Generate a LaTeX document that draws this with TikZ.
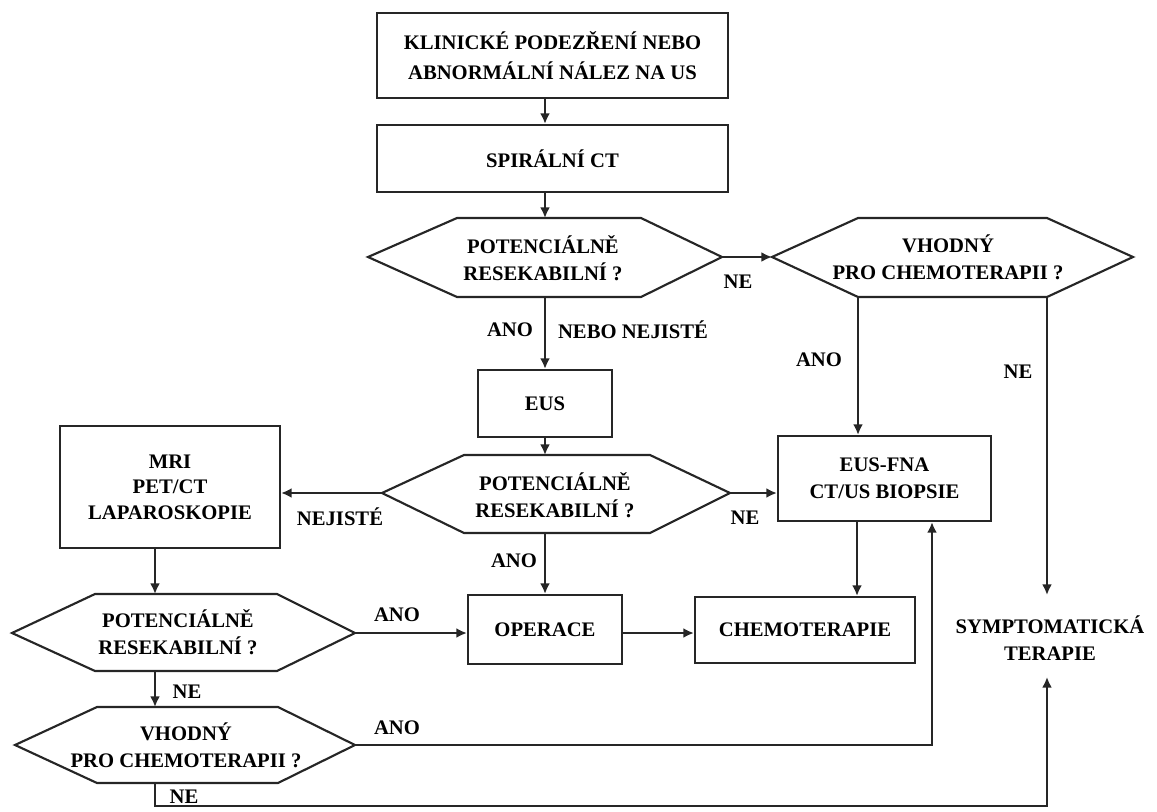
\documentclass[tikz,border=0pt]{standalone}
\usepackage{fontspec}
\setmainfont{Liberation Serif}
\usetikzlibrary{arrows.meta}
\tikzset{
  ink/.style={draw=black!85, line width=1.6pt},
  box/.style={ink, fill=white, align=center, inner sep=0pt,
    font=\fontsize{15.5}{20}\selectfont\bfseries},
  wh/.style 2 args={minimum width=#1*0.75pt, minimum height=#2*0.75pt},
  txt/.style={align=center, inner sep=0pt, font=\fontsize{15.5}{20}\selectfont\bfseries},
  lbl/.style={inner sep=0pt, font=\fontsize{15.5}{18}\selectfont\bfseries},
  arr/.style={ink, -{Latex[length=8pt,width=7.5pt]}},
  conn/.style={ink},
  hexline/.style={ink, line join=miter}
}
% name, xl, xfl, xfr, xr, ytop, ymid, ybot
\newcommand{\myhex}[8]{%
  \draw[hexline] (#2,#7) -- (#3,#6) -- (#4,#6) -- (#5,#7) -- (#4,#8) -- (#3,#8) -- cycle;
  \coordinate (#1w) at (#2,#7);
  \coordinate (#1e) at (#5,#7);
  \coordinate (#1sw) at (#3,#8);
  \coordinate (#1se) at (#4,#8);
  \coordinate (#1top) at (#2,#6);
  \coordinate (#1bot) at (#2,#8);
}
\begin{document}
\begin{tikzpicture}[x=0.75pt, y=-0.75pt]
\useasboundingbox (0,0) rectangle (1157,811);

% reference verticals
\coordinate (spine) at (545,0);
\coordinate (fnax) at (857,0);
\coordinate (upx) at (932,0);
\coordinate (symx) at (1047,0);
\coordinate (leftx) at (155,0);

% boxes
\node[box, wh={351}{85}, font=\fontsize{15.5}{22.5}\selectfont\bfseries] (b1) at (552.5,55.5)
  {KLINICKÉ PODEZŘENÍ NEBO\\ABNORMÁLNÍ NÁLEZ NA US};
\node[box, wh={351}{67}] (b2) at (552.5,158.5) {SPIRÁLNÍ CT};
\node[box, wh={134}{67}] (eus) at (545,403.5) {EUS};
\node[box, wh={220}{122}, font=\fontsize{15.5}{19}\selectfont\bfseries] (mri) at (170,487) {MRI\\PET/CT\\LAPAROSKOPIE};
\node[box, wh={213}{85}] (fna) at (884.5,478.5) {EUS-FNA\\CT/US BIOPSIE};
\node[box, wh={154}{69}] (oper) at (545,629.5) {OPERACE};
\node[box, wh={220}{66}] (chemo) at (805,630) {CHEMOTERAPIE};
\node[txt] (sym) at (1050,638) {SYMPTOMATICKÁ\\TERAPIE};
\coordinate (symtop) at (1047,595);
\coordinate (symbot) at (1047,677);

% hexagons
\myhex{h1}{368}{457}{641}{722}{218}{257}{297}
\myhex{h2}{772}{858}{1047}{1133}{218}{257}{297}
\myhex{h3}{382}{464}{650}{730}{455}{493}{533}
\myhex{h4}{12}{95}{277}{355}{594}{633}{671}
\myhex{h5}{15}{97}{278}{355}{707}{745}{783}
\node[txt] (t1) at (543,258) {POTENCIÁLNĚ\\RESEKABILNÍ ?};
\node[txt] (t2) at (948,257) {VHODNÝ\\PRO CHEMOTERAPII ?};
\node[txt] (t3) at (555,495) {POTENCIÁLNĚ\\RESEKABILNÍ ?};
\node[txt] (t4) at (178,632) {POTENCIÁLNĚ\\RESEKABILNÍ ?};
\node[txt] (t5) at (186,745) {VHODNÝ\\PRO CHEMOTERAPII ?};

% connectors
\draw[arr] (b1.south -| spine) -- (b2.north -| spine);
\draw[arr] (b2.south -| spine) -- (h1top -| spine);
\draw[arr] (h1e) -- (h2w);
\draw[arr] (h1bot -| spine) -- (eus.north -| spine);
\draw[arr] (eus.south -| spine) -- (h3top -| spine);
\draw[arr] (h3w) -- (h3w -| mri.east);
\draw[arr] (h3e) -- (h3e -| fna.west);
\draw[arr] (h3bot -| spine) -- (oper.north -| spine);
\draw[arr] (h2sw) -- (h2sw |- fna.north);
\draw[arr] (h2se) -- (symtop);
\draw[arr] (fna.south -| fnax) -- (chemo.north -| fnax);
\draw[arr] (mri.south -| leftx) -- (h4top -| leftx);
\draw[arr] (h4e) -- (h4e -| oper.west);
\draw[arr] (oper.east |- h4e) -- (chemo.west |- h4e);
\draw[arr] (h4bot -| leftx) -- (h5top -| leftx);
\draw[arr] (h5e) -| (fna.south -| upx);
\draw[arr] (h5bot -| leftx) -- ++(0,23) -| (symbot);

% labels
\node[lbl] (l1) at (738,282) {NE};
\node[lbl] (l2) at (510,330) {ANO};
\node[lbl] (l3) at (633,330) {NEBO NEJISTÉ};
\node[lbl] (l4) at (819,360) {ANO};
\node[lbl] (l5) at (1018,372) {NE};
\node[lbl] (l6) at (340,517) {NEJISTÉ};
\node[lbl] (l7) at (745,518) {NE};
\node[lbl] (l8) at (514,561) {ANO};
\node[lbl] (l9) at (397,615) {ANO};
\node[lbl] (l10) at (187,692) {NE};
\node[lbl] (l11) at (397,728) {ANO};
\node[lbl] (l12) at (184,797) {NE};
\end{tikzpicture}
\end{document}
